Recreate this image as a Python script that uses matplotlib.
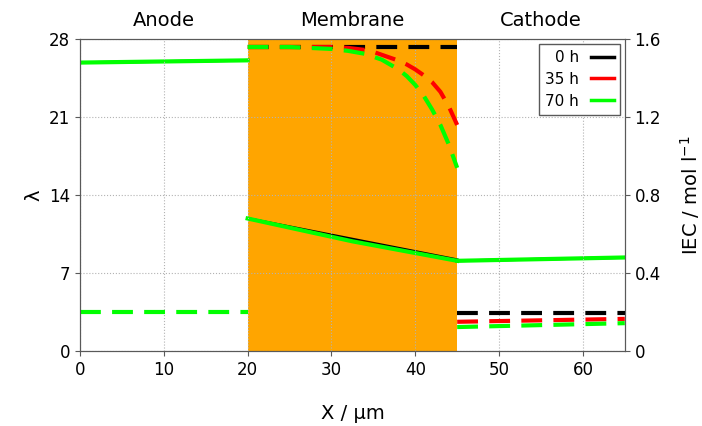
import numpy as np
import matplotlib
matplotlib.use("Agg")
import matplotlib.pyplot as plt

# lambda (left axis), solid lines
x_anode = [0, 20]
lam_anode = [25.9, 26.1]
x_mem = [20, 32.5, 45]
lam_mem_0h = [11.9, 10.05, 8.2]
lam_mem_70h = [11.9, 9.85, 8.1]
x_cath = [45, 65]
lam_cath = [8.1, 8.4]

# IEC (right axis), dashed lines
iec_anode = [0.2, 0.2]
x_iec_mem = [20, 25, 30, 32, 34, 35, 36, 37, 38, 39, 40, 41, 42, 43, 44, 45]
iec_mem_0h = [1.56] * 16
iec_mem_35h = [1.56, 1.56, 1.56, 1.555, 1.545, 1.535, 1.52, 1.505, 1.49,
               1.47, 1.445, 1.415, 1.38, 1.33, 1.255, 1.16]
iec_mem_70h = [1.56, 1.56, 1.55, 1.54, 1.525, 1.51, 1.495, 1.47, 1.445,
               1.41, 1.365, 1.31, 1.24, 1.16, 1.06, 0.94]
iec_cath_0h = [0.195, 0.195]
iec_cath_35h = [0.15, 0.165]
iec_cath_70h = [0.123, 0.143]

labels = ["0 h", "35 h", "70 h"]
colors = ["black", "red", "lime"]
spine_col = "0.35"

fig = plt.figure(figsize=(7.02, 4.26), dpi=100)
ax = fig.add_axes([0.114, 0.176, 0.776, 0.732])
ax2 = ax.twinx()

ax.axvspan(20, 45, color="orange", zorder=0, lw=0)

# solid lambda curves
ax.plot(x_anode, lam_anode, color="black", lw=2)
ax.plot(x_anode, lam_anode, color="lime", lw=3)
ax.plot(x_mem, lam_mem_0h, color="black", lw=2)
ax.plot(x_mem, lam_mem_70h, color="lime", lw=3)
ax.plot(x_cath, lam_cath, color="black", lw=2)
ax.plot(x_cath, lam_cath, color="lime", lw=3)

# dashed IEC curves
dash = (0, (5, 2.7))
ax2.plot(x_anode, iec_anode, color="lime", lw=3, ls=dash)
for y, c, lab in zip([iec_mem_0h, iec_mem_35h, iec_mem_70h], colors, labels):
    ax2.plot(x_iec_mem, y, color=c, lw=3, ls=dash, label=lab)
for y, c in zip([iec_cath_0h, iec_cath_35h, iec_cath_70h], colors):
    ax2.plot(x_cath, y, color=c, lw=3, ls=dash)

ax.set_xlim(0, 65)
ax.set_ylim(0, 28)
ax2.set_ylim(0, 1.6)
ax.set_xticks(range(0, 70, 10))
ax.set_yticks([0, 7, 14, 21, 28])
ax2.set_yticks([0, 0.4, 0.8, 1.2, 1.6])
ax2.set_yticklabels(["0", "0.4", "0.8", "1.2", "1.6"])
for a in (ax, ax2):
    a.tick_params(labelsize=12, color=spine_col)
    for s in a.spines.values():
        s.set_color(spine_col)
ax.grid(True, ls=":", color="0.7", lw=0.8)
ax.set_axisbelow(False)

ax.set_xlabel("X / µm", fontsize=14, labelpad=18)
ax.set_ylabel("λ", fontsize=14, labelpad=4)
ax2.set_ylabel("IEC / mol l$^{-1}$", fontsize=14, labelpad=12)

for xc, txt in [(10, "Anode"), (32.5, "Membrane"), (55, "Cathode")]:
    ax.text(xc, 28.8, txt, ha="center", va="bottom", fontsize=14)

leg = ax2.legend(loc="upper right", markerfirst=False, fontsize=11,
                 fancybox=False, edgecolor=spine_col, handlelength=1.5,
                 labelspacing=0.45, borderaxespad=0.3, framealpha=1)
for h in leg.get_lines():
    h.set_linestyle("-")
    h.set_linewidth(2.5)

fig.savefig("out.png", dpi=100)
